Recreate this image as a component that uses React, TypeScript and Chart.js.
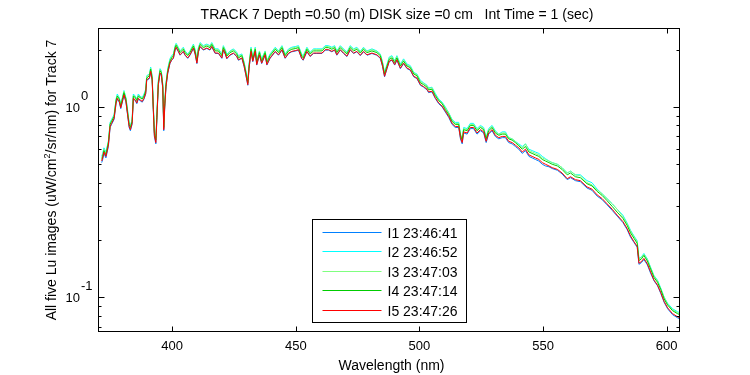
import React, { useEffect, useRef } from "react";
import { Chart, registerables } from "chart.js";

Chart.register(...registerables);

const TITLE = "TRACK 7 Depth =0.50 (m) DISK size =0 cm   Int Time = 1 (sec)";
const X_LABEL = "Wavelength (nm)";
const Y_LABEL_PARTS = ["All five Lu images (uW/cm", "2", "/sr/nm) for Track 7"];

const X_TICKS = [400, 450, 500, 550, 600];
const Y_MAJOR = [0.1, 1];
const Y_MAJOR_EXP = ["-1", "0"];
const Y_MINOR = [0.07, 0.08, 0.09, 0.2, 0.3, 0.4, 0.5, 0.6, 0.7, 0.8, 0.9, 2];

const SERIES_LABELS = ["I1 23:46:41", "I2 23:46:52", "I3 23:47:03", "I4 23:47:14", "I5 23:47:26"];
const SERIES_COLORS = ["#0080ff", "#00ffff", "#80ff80", "#00cc00", "#ff0000"];

const WAVELENGTH = [
  371.5,371.9,372.4,373.2,374.2,374.9,375.5,376.5,377.3,377.8,
  378.6,379.2,380.0,380.5,381.3,381.9,382.6,383.1,383.8,384.3,
  385.1,385.7,386.3,387.0,387.9,388.6,389.3,389.7,390.8,391.3,
  391.9,392.4,392.8,393.4,393.8,394.4,395.1,395.6,396.2,396.6,
  397.0,397.5,398.2,399.1,399.8,400.5,401.2,401.6,402.5,403.2,
  404.5,405.2,406.3,407.2,408.6,409.3,410.0,410.6,411.3,412.6,
  414.0,415.3,416.0,417.4,418.7,420.1,420.7,421.5,422.1,423.4,
  424.8,426.1,426.8,428.2,429.1,429.8,430.6,431.1,431.9,432.6,
  433.6,434.2,435.3,436.2,437.6,438.3,439.6,441.7,443.0,444.4,
  445.7,447.1,448.4,450.0,451.1,452.4,453.0,454.5,455.8,457.2,
  458.5,460.6,461.9,463.2,464.6,465.7,466.6,468.0,469.3,470.7,
  472.0,473.4,474.7,476.1,477.4,478.8,480.8,482.8,484.2,485.1,
  485.9,486.9,487.8,488.9,490.0,490.9,492.3,493.6,495.0,496.3,
  497.7,499.0,500.4,501.7,503.1,503.7,505.1,506.4,507.8,509.2,
  510.5,511.9,513.2,514.5,515.9,516.6,517.3,517.9,519.3,520.6,
  521.9,523.3,524.7,526.0,527.0,528.0,529.4,530.7,532.1,533.5,
  534.8,536.1,537.5,538.8,540.2,541.6,542.9,544.3,545.6,546.9,
  548.3,549.7,551.0,552.4,553.7,555.8,557.7,559.8,561.1,563.1,
  565.1,567.8,569.8,571.9,573.9,575.9,578.0,580.0,582.3,584.0,
  585.4,586.8,588.1,588.8,589.8,590.8,592.2,593.5,594.9,596.3,
  597.6,599.0,600.4,602.4,604.4,605.3,
];

const I1 = [
  0.51,0.53,0.57,0.54,0.62,0.78,0.81,0.86,1.04,1.10,
  1.06,0.98,1.08,1.15,1.06,0.92,0.78,0.75,0.81,1.10,
  1.08,1.04,1.10,1.08,1.06,1.10,1.17,1.38,1.41,1.53,
  1.38,0.94,0.70,0.64,0.85,1.30,1.50,1.47,1.25,0.75,
  1.00,1.27,1.50,1.69,1.76,1.80,1.99,2.05,1.95,1.87,
  1.95,1.87,1.80,1.87,2.03,1.89,1.69,1.94,2.07,1.99,
  2.03,1.99,2.07,1.91,1.91,1.80,1.99,1.89,1.79,1.87,
  1.91,1.84,1.76,1.80,1.63,1.47,1.30,1.59,1.95,1.73,
  1.95,1.66,1.87,1.69,1.87,1.66,1.80,1.95,1.87,1.99,
  1.80,1.91,1.95,1.97,1.99,1.79,1.76,1.95,1.84,1.91,
  1.91,1.91,1.99,1.99,1.95,1.99,1.87,1.99,1.91,1.84,
  1.99,1.91,1.95,1.86,1.95,1.87,1.91,1.87,1.80,1.63,
  1.44,1.59,1.73,1.76,1.66,1.76,1.59,1.69,1.59,1.56,
  1.44,1.41,1.30,1.27,1.23,1.19,1.20,1.11,1.04,1.00,
  0.94,0.88,0.81,0.78,0.78,0.68,0.64,0.73,0.72,0.77,
  0.77,0.72,0.75,0.73,0.65,0.72,0.75,0.70,0.68,0.69,
  0.69,0.65,0.64,0.62,0.60,0.57,0.59,0.55,0.54,0.53,
  0.52,0.50,0.49,0.485,0.475,0.465,0.445,0.415,0.425,0.41,
  0.405,0.375,0.365,0.34,0.326,0.306,0.286,0.267,0.247,0.227,
  0.207,0.194,0.183,0.149,0.152,0.158,0.148,0.134,0.122,0.115,
  0.105,0.094,0.087,0.081,0.078,0.077,
];

const I2 = [
  0.55,0.57,0.61,0.58,0.66,0.83,0.86,0.91,1.10,1.17,
  1.12,1.04,1.14,1.22,1.12,0.98,0.83,0.80,0.86,1.17,
  1.14,1.10,1.17,1.14,1.12,1.17,1.24,1.46,1.49,1.62,
  1.46,1.00,0.75,0.68,0.90,1.38,1.59,1.55,1.32,0.80,
  1.06,1.34,1.59,1.79,1.86,1.90,2.10,2.16,2.06,1.97,
  2.06,1.97,1.90,1.97,2.14,2.00,1.79,2.05,2.18,2.10,
  2.14,2.10,2.18,2.02,2.02,1.90,2.10,2.00,1.89,1.97,
  2.02,1.94,1.86,1.90,1.72,1.55,1.38,1.68,2.06,1.83,
  2.06,1.75,1.97,1.79,1.97,1.75,1.90,2.06,1.97,2.10,
  1.90,2.02,2.06,2.08,2.10,1.89,1.86,2.06,1.94,2.02,
  2.02,2.02,2.10,2.10,2.06,2.10,1.97,2.10,2.02,1.94,
  2.10,2.02,2.06,1.96,2.06,1.97,2.02,1.97,1.90,1.72,
  1.52,1.68,1.83,1.86,1.75,1.86,1.68,1.79,1.68,1.65,
  1.52,1.49,1.38,1.34,1.30,1.26,1.27,1.18,1.10,1.06,
  1.00,0.93,0.86,0.83,0.83,0.72,0.68,0.78,0.77,0.82,
  0.82,0.77,0.80,0.78,0.69,0.77,0.80,0.75,0.72,0.74,
  0.74,0.69,0.68,0.66,0.64,0.62,0.64,0.60,0.59,0.58,
  0.57,0.55,0.535,0.52,0.51,0.50,0.48,0.45,0.46,0.44,
  0.44,0.41,0.40,0.37,0.35,0.33,0.31,0.29,0.27,0.246,
  0.225,0.21,0.198,0.16,0.163,0.17,0.159,0.144,0.13,0.123,
  0.112,0.10,0.093,0.087,0.084,0.083,
];

const I3 = [
  0.54,0.56,0.60,0.57,0.66,0.82,0.85,0.90,1.09,1.15,
  1.11,1.03,1.13,1.21,1.11,0.97,0.82,0.79,0.85,1.15,
  1.13,1.09,1.15,1.13,1.11,1.15,1.23,1.45,1.48,1.60,
  1.45,0.99,0.74,0.68,0.89,1.36,1.57,1.54,1.31,0.79,
  1.05,1.33,1.57,1.77,1.84,1.88,2.08,2.14,2.04,1.96,
  2.04,1.96,1.88,1.96,2.12,1.98,1.77,2.03,2.16,2.08,
  2.12,2.08,2.16,2.00,2.00,1.88,2.08,1.98,1.87,1.96,
  2.00,1.92,1.84,1.88,1.71,1.54,1.36,1.66,2.04,1.81,
  2.04,1.74,1.96,1.77,1.96,1.74,1.88,2.04,1.96,2.08,
  1.88,2.00,2.04,2.06,2.08,1.87,1.84,2.04,1.92,2.00,
  2.00,2.00,2.08,2.08,2.04,2.08,1.96,2.08,2.00,1.92,
  2.08,2.00,2.04,1.94,2.04,1.96,2.00,1.96,1.88,1.71,
  1.51,1.66,1.81,1.84,1.74,1.84,1.66,1.77,1.66,1.63,
  1.51,1.48,1.36,1.33,1.29,1.25,1.26,1.16,1.09,1.05,
  0.99,0.93,0.85,0.82,0.82,0.72,0.68,0.77,0.76,0.81,
  0.81,0.76,0.79,0.77,0.69,0.76,0.79,0.74,0.72,0.73,
  0.73,0.69,0.68,0.66,0.63,0.61,0.64,0.59,0.58,0.57,
  0.56,0.54,0.53,0.52,0.51,0.50,0.48,0.45,0.46,0.44,
  0.435,0.40,0.39,0.366,0.35,0.33,0.31,0.29,0.265,0.244,
  0.223,0.208,0.196,0.159,0.162,0.168,0.158,0.143,0.129,0.122,
  0.111,0.10,0.092,0.086,0.083,0.082,
];

const I4 = [
  0.53,0.55,0.59,0.56,0.65,0.81,0.84,0.89,1.08,1.14,
  1.10,1.01,1.12,1.19,1.10,0.95,0.81,0.78,0.84,1.14,
  1.12,1.08,1.14,1.12,1.10,1.14,1.21,1.42,1.46,1.58,
  1.42,0.97,0.73,0.67,0.88,1.34,1.55,1.52,1.29,0.78,
  1.04,1.31,1.55,1.74,1.81,1.86,2.05,2.11,2.01,1.93,
  2.01,1.93,1.86,1.93,2.09,1.95,1.74,2.00,2.13,2.05,
  2.09,2.05,2.13,1.97,1.97,1.86,2.05,1.95,1.85,1.93,
  1.97,1.90,1.81,1.86,1.68,1.52,1.34,1.64,2.01,1.78,
  2.01,1.71,1.93,1.74,1.93,1.71,1.86,2.01,1.93,2.05,
  1.86,1.97,2.01,2.03,2.05,1.85,1.81,2.01,1.90,1.97,
  1.97,1.97,2.05,2.05,2.01,2.05,1.93,2.05,1.97,1.90,
  2.05,1.97,2.01,1.92,2.01,1.93,1.97,1.93,1.86,1.68,
  1.49,1.64,1.78,1.81,1.71,1.81,1.64,1.74,1.64,1.61,
  1.49,1.46,1.34,1.31,1.27,1.23,1.24,1.15,1.08,1.04,
  0.97,0.91,0.84,0.81,0.81,0.71,0.67,0.76,0.75,0.80,
  0.80,0.75,0.78,0.76,0.68,0.75,0.78,0.73,0.71,0.72,
  0.72,0.68,0.67,0.65,0.625,0.60,0.62,0.58,0.57,0.56,
  0.55,0.53,0.52,0.51,0.50,0.49,0.47,0.44,0.45,0.43,
  0.425,0.395,0.385,0.36,0.343,0.322,0.30,0.28,0.26,0.239,
  0.218,0.204,0.192,0.156,0.159,0.166,0.155,0.141,0.127,0.12,
  0.11,0.098,0.091,0.085,0.082,0.081,
];

const I5 = [
  0.52,0.54,0.58,0.55,0.63,0.79,0.82,0.87,1.05,1.11,
  1.07,0.99,1.09,1.16,1.07,0.93,0.79,0.76,0.82,1.11,
  1.09,1.05,1.11,1.09,1.07,1.11,1.18,1.39,1.42,1.54,
  1.39,0.95,0.71,0.65,0.86,1.31,1.51,1.48,1.26,0.76,
  1.01,1.28,1.51,1.70,1.77,1.81,2.00,2.06,1.96,1.88,
  1.96,1.88,1.81,1.88,2.04,1.90,1.70,1.95,2.08,2.00,
  2.04,2.00,2.08,1.92,1.92,1.81,2.00,1.90,1.80,1.88,
  1.92,1.85,1.77,1.81,1.64,1.48,1.31,1.60,1.96,1.74,
  1.96,1.67,1.88,1.70,1.88,1.67,1.81,1.96,1.88,2.00,
  1.81,1.92,1.96,1.98,2.00,1.80,1.77,1.96,1.85,1.92,
  1.92,1.92,2.00,2.00,1.96,2.00,1.88,2.00,1.92,1.85,
  2.00,1.92,1.96,1.87,1.96,1.88,1.92,1.88,1.81,1.64,
  1.45,1.60,1.74,1.77,1.67,1.77,1.60,1.70,1.60,1.57,
  1.45,1.42,1.31,1.28,1.24,1.20,1.21,1.12,1.05,1.01,
  0.95,0.89,0.82,0.79,0.79,0.69,0.65,0.74,0.73,0.78,
  0.78,0.73,0.76,0.74,0.66,0.73,0.76,0.71,0.69,0.70,
  0.70,0.66,0.65,0.63,0.61,0.58,0.60,0.56,0.55,0.54,
  0.53,0.51,0.50,0.49,0.48,0.47,0.45,0.42,0.43,0.415,
  0.41,0.38,0.37,0.345,0.33,0.31,0.29,0.27,0.25,0.23,
  0.21,0.196,0.185,0.151,0.154,0.160,0.150,0.136,0.123,0.116,
  0.106,0.095,0.088,0.082,0.079,0.078,
];

const SERIES = [I1, I2, I3, I4, I5];

const FONT = '"Liberation Sans", Arial, Helvetica, sans-serif';

const overlay = {
  id: "overlay",
  afterDraw(chart: any) {
    const { ctx, chartArea: a, scales } = chart;
    const x = scales.x;
    const y = scales.y;
    const L = Math.round(a.left) + 0.5;
    const R = Math.round(a.right) + 0.5;
    const T = Math.round(a.top) + 0.5;
    const B = Math.round(a.bottom) + 0.5;
    ctx.save();
    ctx.strokeStyle = "#000";
    ctx.fillStyle = "#000";
    ctx.lineWidth = 1;
    ctx.strokeRect(L, T, R - L, B - T);

    ctx.beginPath();
    for (const t of X_TICKS) {
      const px = Math.round(x.getPixelForValue(t)) + 0.5;
      ctx.moveTo(px, B);
      ctx.lineTo(px, B - 5);
      ctx.moveTo(px, T);
      ctx.lineTo(px, T + 5);
    }
    for (const t of Y_MAJOR) {
      const py = Math.round(y.getPixelForValue(t)) + 0.5;
      ctx.moveTo(L, py);
      ctx.lineTo(L + 6, py);
      ctx.moveTo(R, py);
      ctx.lineTo(R - 6, py);
    }
    for (const t of Y_MINOR) {
      const py = Math.round(y.getPixelForValue(t)) + 0.5;
      ctx.moveTo(L, py);
      ctx.lineTo(L + 3, py);
      ctx.moveTo(R, py);
      ctx.lineTo(R - 3, py);
    }
    ctx.stroke();

    ctx.font = "13px " + FONT;
    ctx.textAlign = "center";
    ctx.textBaseline = "alphabetic";
    for (const t of X_TICKS) {
      ctx.fillText(String(t), x.getPixelForValue(t), a.bottom + 19);
    }
    Y_MAJOR.forEach((t, i) => {
      const py = y.getPixelForValue(t);
      ctx.textAlign = "right";
      ctx.fillText("10", a.left - 18, py + 5);
      ctx.textAlign = "left";
      ctx.fillText(Y_MAJOR_EXP[i], a.left - 17, py - 7);
    });

    ctx.font = "14px " + FONT;
    ctx.textAlign = "center";
    ctx.fillText(TITLE, 397, 19);
    ctx.fillText(X_LABEL, (a.left + a.right) / 2 + 3, 370);

    // y label (rotated, with superscript)
    ctx.save();
    ctx.translate(56, 180);
    ctx.rotate(-Math.PI / 2);
    ctx.textAlign = "left";
    const f1 = "14px " + FONT;
    const f2 = "9px " + FONT;
    ctx.font = f1;
    const w0 = ctx.measureText(Y_LABEL_PARTS[0]).width;
    const w2 = ctx.measureText(Y_LABEL_PARTS[2]).width;
    ctx.font = f2;
    const w1 = ctx.measureText(Y_LABEL_PARTS[1]).width;
    let cx = -(w0 + w1 + w2) / 2;
    ctx.font = f1;
    ctx.fillText(Y_LABEL_PARTS[0], cx, 0);
    cx += w0;
    ctx.font = f2;
    ctx.fillText(Y_LABEL_PARTS[1], cx, -6);
    cx += w1;
    ctx.font = f1;
    ctx.fillText(Y_LABEL_PARTS[2], cx, 0);
    ctx.restore();

    // legend
    const lx = Math.round(a.left) + 214 + 0.5;
    const ly = Math.round(a.top) + 191 + 0.5;
    ctx.fillStyle = "#fff";
    ctx.fillRect(lx, ly, 154, 103);
    ctx.strokeStyle = "#000";
    ctx.strokeRect(lx, ly, 154, 103);
    ctx.font = "14px " + FONT;
    ctx.textAlign = "left";
    SERIES_LABELS.forEach((lab, i) => {
      const ry = Math.round(ly + 12 + i * 19.5) + 0.5;
      ctx.strokeStyle = SERIES_COLORS[i];
      ctx.beginPath();
      ctx.moveTo(lx + 10, ry);
      ctx.lineTo(lx + 69, ry);
      ctx.stroke();
      ctx.fillStyle = "#000";
      ctx.fillText(lab, lx + 75, ry + 5);
    });
    ctx.restore();
  },
};

export default function App() {
  const ref = useRef<HTMLCanvasElement | null>(null);
  useEffect(() => {
    document.body.style.margin = "0";
    const canvas = ref.current;
    if (!canvas) return;
    const chart = new Chart(canvas, {
      type: "line",
      data: {
        datasets: SERIES.map((s, i) => ({
          label: SERIES_LABELS[i],
          data: WAVELENGTH.map((w, j) => ({ x: w, y: s[j] })),
          borderColor: SERIES_COLORS[i],
          backgroundColor: SERIES_COLORS[i],
          borderWidth: 1,
          pointRadius: 0,
          tension: 0,
          fill: false,
          order: SERIES.length - 1 - i,
        })),
      },
      options: {
        responsive: false,
        animation: false,
        events: [],
        layout: { padding: { left: 98, right: 71, top: 28, bottom: 44 } },
        plugins: {
          legend: { display: false },
          title: { display: false },
          tooltip: { enabled: false },
        },
        scales: {
          x: { type: "linear", min: 370, max: 605, display: false },
          y: { type: "logarithmic", min: 0.0665, max: 2.6, display: false },
        },
      },
      plugins: [overlay],
    } as any);
    return () => chart.destroy();
  }, []);
  return (
    <div style={{ width: 750, height: 375, background: "#fff" }}>
      <canvas ref={ref} width={750} height={375} style={{ display: "block" }} />
    </div>
  );
}
